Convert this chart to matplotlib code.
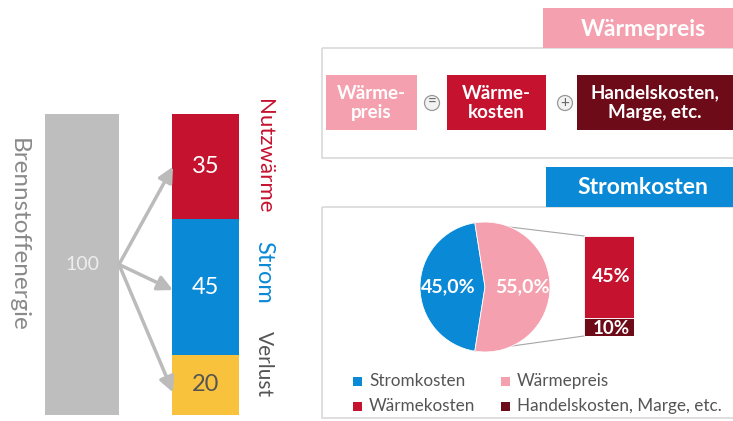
import numpy as np
import matplotlib.pyplot as plt
from matplotlib.patches import Rectangle, Circle

plt.rcParams['font.family'] = ['Lato', 'DejaVu Sans']

# Energy flow (left): fuel energy split into useful heat, power, loss
total_energy = 100
flow_labels = ['Verlust', 'Strom', 'Nutzwärme']   # bottom -> top
flow_values = [20, 45, 35]
flow_colors = ['#f9c23c', '#0a89d6', '#c5122f']
flow_text_colors = ['#555555', '#ffffff', '#ffffff']
flow_label_colors = ['#555555', '#0a89d6', '#c5122f']

# Cost split (right): pie + bar of pie
pie_labels = ['Stromkosten', 'Wärmepreis']
pie_values = [45.0, 55.0]
pie_colors = ['#0a89d6', '#f4a0ae']
sub_labels = ['Handelskosten, Marge, etc.', 'Wärmekosten']  # bottom -> top
sub_values = [10, 45]
sub_colors = ['#6e0b19', '#c5122f']

W, H = 733, 421
fig = plt.figure(figsize=(W / 100, H / 100), dpi=100)


def px_axes(x0, y0, x1, y1):
    """axes placed by pixel box (top-left origin)"""
    return fig.add_axes([x0 / W, 1 - y1 / H, (x1 - x0) / W, (y1 - y0) / H])


# background axes in pixel coordinates for frames and annotations
ax = px_axes(0, 0, W, H)
ax.set_xlim(0, W)
ax.set_ylim(H, 0)
ax.axis('off')

# ---- left: energy bars ----
axl = px_axes(0, 114, 300, 415)
axl.set_xlim(0, 300)
axl.set_ylim(0, total_energy)
axl.axis('off')
axl.bar(82, total_energy, width=74, color='#bebebe')
axl.text(82, total_energy / 2, str(total_energy), ha='center', va='center',
         color='#eeeeee', fontsize=14)
axl.text(18, 60, 'Brennstoffenergie', rotation=-90, ha='center',
         va='center', color='#8a8a8a', fontsize=17.5)

# where the side labels and arrow tips sit (layout only)
label_y = [17, 47.5, 86]
label_size = [15, 17, 16]
arrow_shift = [-2.5, -1, 0]

bottom = 0
for i, (lab, val, col, tc, lc) in enumerate(zip(flow_labels, flow_values, flow_colors,
                                                flow_text_colors, flow_label_colors)):
    axl.bar(205.5, val, width=67, bottom=bottom, color=col)
    mid = bottom + val / 2
    axl.text(205.5, mid, str(val), ha='center', va='center', color=tc, fontsize=17)
    axl.text(264, label_y[i], lab, rotation=-90, ha='center', va='center',
             color=lc, fontsize=label_size[i])
    axl.annotate('', xy=(173, mid + arrow_shift[i]), xytext=(119, total_energy / 2),
                 arrowprops=dict(arrowstyle='-|>,head_length=0.9,head_width=0.45',
                                 color='#bbbbbb', lw=2.5, shrinkA=0, shrinkB=0))
    bottom += val

# ---- right top: Wärmepreis ----
ax.add_patch(Rectangle((322, 48), 420, 110, fill=False, ec='#d9d9d9', lw=1.2))
ax.add_patch(Rectangle((543, 8), 200, 40, color='#f4a0ae', lw=0))
ax.text(643, 29, 'Wärmepreis', ha='center', va='center', color='white',
        fontsize=16.5, fontweight='bold')

boxes = [(326, 417, '#f4a0ae', 'Wärme-\npreis'),
         (447, 546, '#c5122f', 'Wärme-\nkosten'),
         (577, 745, '#6e0b19', 'Handelskosten,\nMarge, etc.')]
for x0, x1, col, txt in boxes:
    ax.add_patch(Rectangle((x0, 75), x1 - x0, 55, color=col, lw=0))
    xc = (x0 + min(x1, 733)) / 2
    ax.text(xc, 103, txt, ha='center', va='center', color='white',
            fontsize=13.5, fontweight='bold', linespacing=1.2)
for xc, sym in [(432, '='), (565, '+')]:
    ax.add_patch(Circle((xc, 103), 7.5, fc='#f2f2f2', ec='#999999', lw=0.9))
    ax.text(xc, 102.5, sym, ha='center', va='center', color='#666666', fontsize=11)

# ---- right bottom: Stromkosten ----
ax.add_patch(Rectangle((322, 207), 420, 211, fill=False, ec='#d9d9d9', lw=1.2))
ax.add_patch(Rectangle((546, 167), 197, 40, color='#0a89d6', lw=0))
ax.text(643, 188, 'Stromkosten', ha='center', va='center', color='white',
        fontsize=16.5, fontweight='bold')

pie_cx, pie_cy, pie_r = 485, 287, 65
start = 99
axp = px_axes(pie_cx - pie_r, pie_cy - pie_r, pie_cx + pie_r, pie_cy + pie_r)
wedges, _ = axp.pie(pie_values, colors=pie_colors, startangle=start,
                    counterclock=True, radius=1,
                    wedgeprops=dict(linewidth=0.6, edgecolor='white'))
axp.set_xlim(-1, 1)
axp.set_ylim(-1, 1)
for xt, v in zip([-0.57, 0.57], pie_values):
    axp.text(xt, 0, f'{v:.1f}%'.replace('.', ','), ha='center', va='center',
             color='white', fontsize=14, fontweight='bold')

# bar of pie
bx0, bx1, by0, by1 = 584, 634, 236, 336
axb = px_axes(bx0, by0, bx1, by1)
axb.set_xlim(-0.5, 0.5)
axb.set_ylim(0, sum(sub_values))
axb.axis('off')
b = 0
for val, col in zip(sub_values, sub_colors):
    axb.bar(0, val, width=1, bottom=b, color=col, edgecolor='white', lw=0.6)
    axb.text(0.05, b + val / 2 - (0.7 if val < 20 else 0), f'{val}%', ha='center',
             va='center', color='white', fontsize=14 if val > 20 else 13.5,
             fontweight='bold')
    b += val

# connector lines from pie split edge to sub bar
a1 = np.deg2rad(start)
a2 = np.deg2rad(start + 360 * pie_values[0] / sum(pie_values))
for ang, by in [(a1, by0), (a2, by1)]:
    ax.plot([pie_cx + pie_r * np.cos(ang), bx0],
            [pie_cy - pie_r * np.sin(ang), by], color='#a6a6a6', lw=0.8)

# legend
leg_items = [(pie_labels[0], pie_colors[0], 357, 381),
             (pie_labels[1], pie_colors[1], 505, 381),
             (sub_labels[1], sub_colors[1], 357, 406),
             (sub_labels[0], sub_colors[0], 505, 406)]
for lab, col, lx, ly in leg_items:
    ax.add_patch(Rectangle((lx - 4.5, ly - 4.5), 9, 9, color=col, lw=0))
    ax.text(lx + 12, ly, lab, ha='left', va='center', color='#555555', fontsize=12.3)

fig.savefig('out.png', dpi=100)
